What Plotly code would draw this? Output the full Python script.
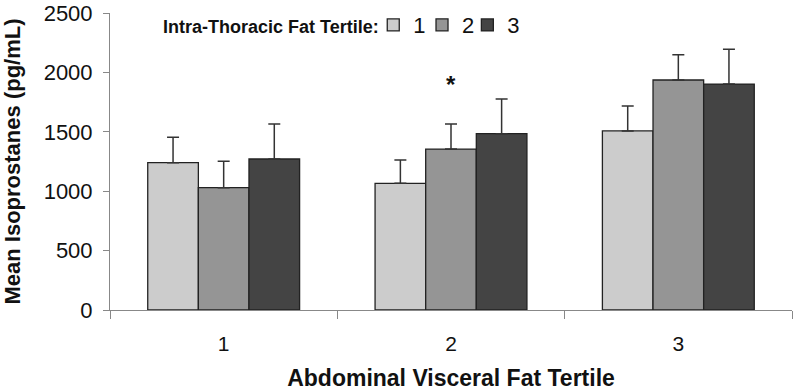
import plotly.graph_objects as go

categories = ["1", "2", "3"]
series_names = ["1", "2", "3"]
values_t1 = [1240, 1066, 1507]
values_t2 = [1030, 1355, 1936]
values_t3 = [1271, 1484, 1902]
errors_t1 = [214, 197, 210]
errors_t2 = [222, 211, 213]
errors_t3 = [295, 292, 292]
y_ticks = [0, 500, 1000, 1500, 2000, 2500]
colors = ["#cccccc", "#959595", "#444444"]
star_category = "2"
star_value = 1900

FONT = "Liberation Sans, Arial, sans-serif"
legend_ids = ["legend", "legend2", "legend3"]
legend_x = [0.386, 0.4575, 0.524]

fig = go.Figure()
for name, vals, errs, col, lg in zip(series_names, [values_t1, values_t2, values_t3],
                                     [errors_t1, errors_t2, errors_t3], colors, legend_ids):
    fig.add_trace(go.Bar(
        x=categories, y=vals, name=name, legend=lg,
        marker=dict(color=col, line=dict(color="#222222", width=1.3)),
        error_y=dict(type="data", array=errs, arrayminus=[0] * len(errs), symmetric=False,
                     color="#333333", thickness=1.5, width=6),
    ))

fig.add_annotation(x=categories.index(star_category), y=star_value, text="<b>*</b>", showarrow=False,
                   font=dict(family=FONT, size=24, color="#111111"), yanchor="middle")

fig.add_annotation(xref="paper", yref="paper", x=0.397, y=0.953, xanchor="right", yanchor="middle",
                   text="<b>Intra-Thoracic Fat Tertile:</b>", showarrow=False,
                   font=dict(family=FONT, size=18, color="#111111"))

legend_common = dict(orientation="h", y=1.03, xanchor="left", yanchor="top",
                     font=dict(size=22, family=FONT), itemwidth=30,
                     bgcolor="rgba(0,0,0,0)")

fig.update_layout(
    width=800, height=391,
    margin=dict(l=110, r=8, t=13, b=81, autoexpand=False),
    paper_bgcolor="white", plot_bgcolor="white",
    barmode="group", bargap=0.332, bargroupgap=0,
    font=dict(family=FONT, color="#111111"),
    showlegend=True,
    legend=dict(x=legend_x[0], **legend_common),
    legend2=dict(x=legend_x[1], **legend_common),
    legend3=dict(x=legend_x[2], **legend_common),
    xaxis=dict(
        automargin=False,
        showline=True, linecolor="#888888", linewidth=1,
        ticks="outside", tickson="boundaries", ticklen=8, tickcolor="#888888",
        tickfont=dict(size=21, family=FONT), ticklabelstandoff=15,
        title=dict(text="<b>Abdominal Visceral Fat Tertile</b>", font=dict(size=23, family=FONT), standoff=20),
        showgrid=False,
    ),
    yaxis=dict(
        automargin=False, ticklabeloverflow="allow",
        range=[0, 2500], tickvals=y_ticks,
        showline=True, linecolor="#888888", linewidth=1,
        ticks="outside", ticklen=6, tickcolor="#888888",
        tickfont=dict(size=22, family=FONT), ticklabelstandoff=6,
        title=dict(text="<b>Mean Isoprostanes (pg/mL)</b>", font=dict(size=22, family=FONT), standoff=16),
        showgrid=False, zeroline=False,
    ),
)

fig.write_html("out.html", config={"displayModeBar": False},
               post_script="document.body.style.margin='0';")
